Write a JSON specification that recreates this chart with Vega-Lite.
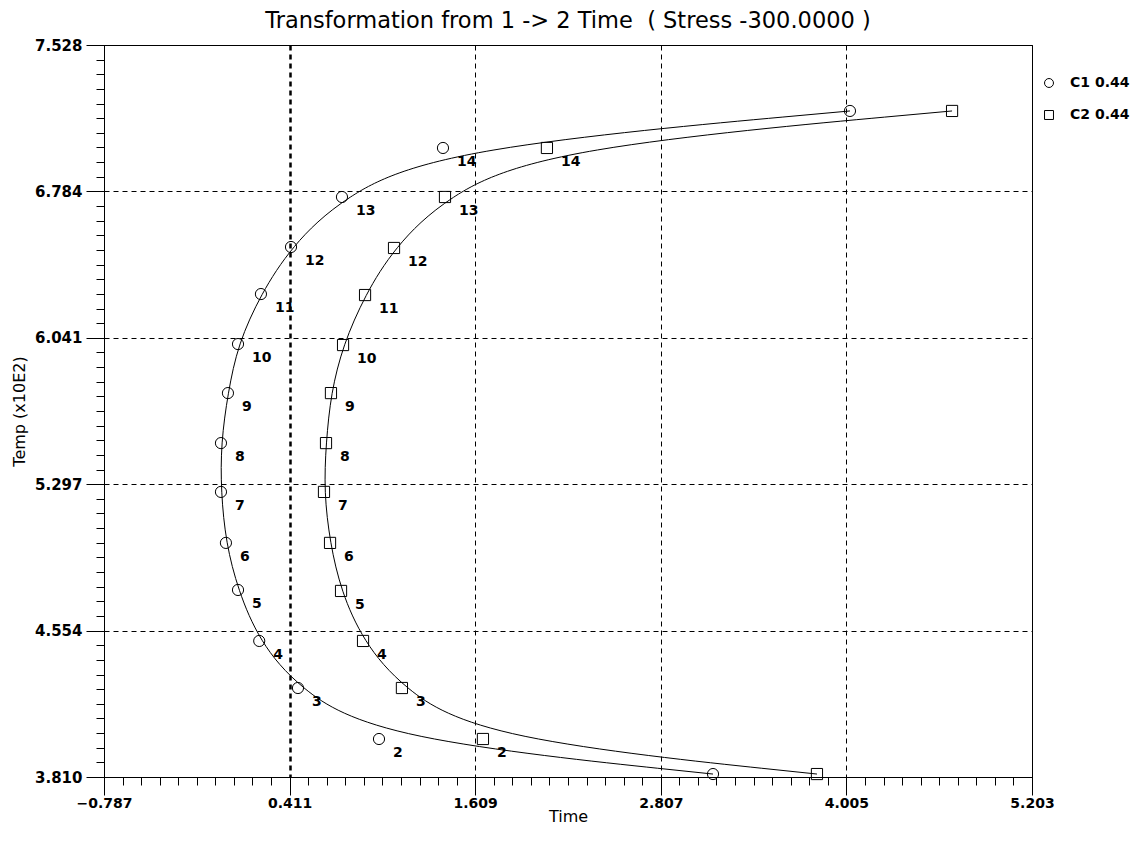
{
  "$schema": "https://vega.github.io/schema/vega-lite/v6.json",
  "width": 928,
  "height": 732,
  "autosize": {"type": "none"},
  "padding": {"left": 104, "top": 45, "right": 114, "bottom": 68},
  "background": "white",
  "title": {"text": "Transformation from 1 -> 2 Time \u00a0( Stress -300.0000 )", "font": "DejaVu Sans", "fontSize": 22.5, "fontWeight": "normal", "anchor": "middle", "offset": 6, "color": "black"},
  "config": {
    "view": {"stroke": "black", "strokeWidth": 1},
    "axis": {"domainColor": "black", "tickColor": "black", "labelColor": "black", "titleColor": "black"}
  },
  "data": {"values": [
    {"s": "C1 0.44", "n": 1, "t": 3.144, "temp": 3.825, "lab": ""},
    {"s": "C1 0.44", "n": 2, "t": 0.988, "temp": 4.003, "lab": "2"},
    {"s": "C1 0.44", "n": 3, "t": 0.465, "temp": 4.262, "lab": "3"},
    {"s": "C1 0.44", "n": 4, "t": 0.215, "temp": 4.501, "lab": "4"},
    {"s": "C1 0.44", "n": 5, "t": 0.078, "temp": 4.760, "lab": "5"},
    {"s": "C1 0.44", "n": 6, "t": 0.000, "temp": 4.999, "lab": "6"},
    {"s": "C1 0.44", "n": 7, "t": -0.032, "temp": 5.258, "lab": "7"},
    {"s": "C1 0.44", "n": 8, "t": -0.032, "temp": 5.506, "lab": "8"},
    {"s": "C1 0.44", "n": 9, "t": 0.013, "temp": 5.760, "lab": "9"},
    {"s": "C1 0.44", "n": 10, "t": 0.078, "temp": 6.009, "lab": "10"},
    {"s": "C1 0.44", "n": 11, "t": 0.226, "temp": 6.263, "lab": "11"},
    {"s": "C1 0.44", "n": 12, "t": 0.420, "temp": 6.502, "lab": "12"},
    {"s": "C1 0.44", "n": 13, "t": 0.749, "temp": 6.756, "lab": "13"},
    {"s": "C1 0.44", "n": 14, "t": 1.401, "temp": 7.005, "lab": "14"},
    {"s": "C1 0.44", "n": 15, "t": 4.028, "temp": 7.193, "lab": ""},
    {"s": "C2 0.44", "n": 1, "t": 3.815, "temp": 3.825, "lab": ""},
    {"s": "C2 0.44", "n": 2, "t": 1.659, "temp": 4.003, "lab": "2"},
    {"s": "C2 0.44", "n": 3, "t": 1.136, "temp": 4.262, "lab": "3"},
    {"s": "C2 0.44", "n": 4, "t": 0.885, "temp": 4.501, "lab": "4"},
    {"s": "C2 0.44", "n": 5, "t": 0.743, "temp": 4.755, "lab": "5"},
    {"s": "C2 0.44", "n": 6, "t": 0.672, "temp": 4.999, "lab": "6"},
    {"s": "C2 0.44", "n": 7, "t": 0.633, "temp": 5.258, "lab": "7"},
    {"s": "C2 0.44", "n": 8, "t": 0.646, "temp": 5.506, "lab": "8"},
    {"s": "C2 0.44", "n": 9, "t": 0.678, "temp": 5.760, "lab": "9"},
    {"s": "C2 0.44", "n": 10, "t": 0.756, "temp": 6.004, "lab": "10"},
    {"s": "C2 0.44", "n": 11, "t": 0.898, "temp": 6.258, "lab": "11"},
    {"s": "C2 0.44", "n": 12, "t": 1.085, "temp": 6.497, "lab": "12"},
    {"s": "C2 0.44", "n": 13, "t": 1.414, "temp": 6.756, "lab": "13"},
    {"s": "C2 0.44", "n": 14, "t": 2.072, "temp": 7.005, "lab": "14"},
    {"s": "C2 0.44", "n": 15, "t": 4.687, "temp": 7.193, "lab": ""}
  ]},
  "resolve": {"axis": {"x": "independent", "y": "independent"}},
  "layer": [
    {
      "mark": {"type": "line", "interpolate": "basis", "color": "black", "strokeWidth": 1},
      "encoding": {
        "x": {"field": "t", "type": "quantitative", "scale": {"domain": [-0.787, 5.203], "nice": false, "zero": false},
          "axis": {"orient": "bottom", "values": [-0.787, 0.411, 1.609, 2.807, 4.005, 5.203], "format": ".3f", "tickSize": 18, "tickWidth": 1,
            "grid": true, "gridColor": "black", "gridDash": [5, 4], "gridOpacity": 1,
            "gridWidth": {"condition": {"test": "datum.value == 0.411", "value": 2.5}, "value": 1},
            "labelFont": "DejaVu Sans", "labelFontWeight": "bold", "labelFontSize": 14, "labelPadding": 1, "labelFlush": false,
            "title": "Time", "titleFont": "DejaVu Sans", "titleFontWeight": "normal", "titleFontSize": 16, "titlePadding": -2}},
        "y": {"field": "temp", "type": "quantitative", "scale": {"domain": [3.81, 7.528], "nice": false, "zero": false},
          "axis": {"orient": "left", "values": [3.81, 4.5536, 5.2972, 6.0408, 6.7844, 7.528], "format": ".3f", "tickSize": 18, "tickWidth": 1,
            "grid": true, "gridColor": "black", "gridDash": [5, 4], "gridOpacity": 1, "gridWidth": 1,
            "labelFont": "DejaVu Sans", "labelFontWeight": "bold", "labelFontSize": 15, "labelPadding": 4, "labelFlush": false,
            "title": "Temp (x10E2)", "titleFont": "DejaVu Sans", "titleFontWeight": "normal", "titleFontSize": 16, "titlePadding": 7}},
        "detail": {"field": "s"},
        "order": {"field": "n", "type": "quantitative"}
      }
    },
    {
      "mark": {"type": "point", "filled": false, "stroke": "black", "strokeWidth": 1, "size": 125, "opacity": 1},
      "encoding": {
        "x": {"field": "t", "type": "quantitative",
          "axis": {"orient": "bottom", "values": [-0.787, -0.6672, -0.5474, -0.4276, -0.3078, -0.188, -0.0682, 0.0516, 0.1714, 0.2912, 0.411, 0.5308, 0.6506, 0.7704, 0.8902, 1.01, 1.1298, 1.2496, 1.3694, 1.4892, 1.609, 1.7288, 1.8486, 1.9684, 2.0882, 2.208, 2.3278, 2.4476, 2.5674, 2.6872, 2.807, 2.9268, 3.0466, 3.1664, 3.2862, 3.406, 3.5258, 3.6456, 3.7654, 3.8852, 4.005, 4.1248, 4.2446, 4.3644, 4.4842, 4.604, 4.7238, 4.8436, 4.9634, 5.0832, 5.203],
            "tickSize": 8, "labels": false, "grid": false, "domain": true, "title": null}},
        "y": {"field": "temp", "type": "quantitative",
          "axis": {"orient": "left", "values": [3.81, 3.88436, 3.95872, 4.03308, 4.10744, 4.1818, 4.25616, 4.33052, 4.40488, 4.47924, 4.5536, 4.62796, 4.70232, 4.77668, 4.85104, 4.9254, 4.99976, 5.07412, 5.14848, 5.22284, 5.2972, 5.37156, 5.44592, 5.52028, 5.59464, 5.669, 5.74336, 5.81772, 5.89208, 5.96644, 6.0408, 6.11516, 6.18952, 6.26388, 6.33824, 6.4126, 6.48696, 6.56132, 6.63568, 6.71004, 6.7844, 6.85876, 6.93312, 7.00748, 7.08184, 7.1562, 7.23056, 7.30492, 7.37928, 7.45364, 7.528],
            "tickSize": 8, "labels": false, "grid": false, "domain": true, "title": null}},
        "shape": {"field": "s", "type": "nominal", "scale": {"range": ["circle", "square"]},
          "legend": {"title": null, "orient": "none", "legendX": 938, "legendY": 31, "padding": 0,
            "labelFont": "DejaVu Sans", "labelFontWeight": "bold", "labelFontSize": 14, "labelColor": "black", "labelOffset": 14,
            "symbolStrokeColor": "black", "symbolFillColor": "transparent", "symbolStrokeWidth": 1, "symbolSize": 80, "rowPadding": 18}}
      }
    },
    {
      "mark": {"type": "text", "align": "left", "baseline": "middle", "dx": 14, "dy": 14, "font": "DejaVu Sans", "fontWeight": "bold", "fontSize": 14, "color": "black"},
      "encoding": {
        "x": {"field": "t", "type": "quantitative", "axis": null},
        "y": {"field": "temp", "type": "quantitative", "axis": null},
        "text": {"field": "lab"}
      }
    }
  ]
}
